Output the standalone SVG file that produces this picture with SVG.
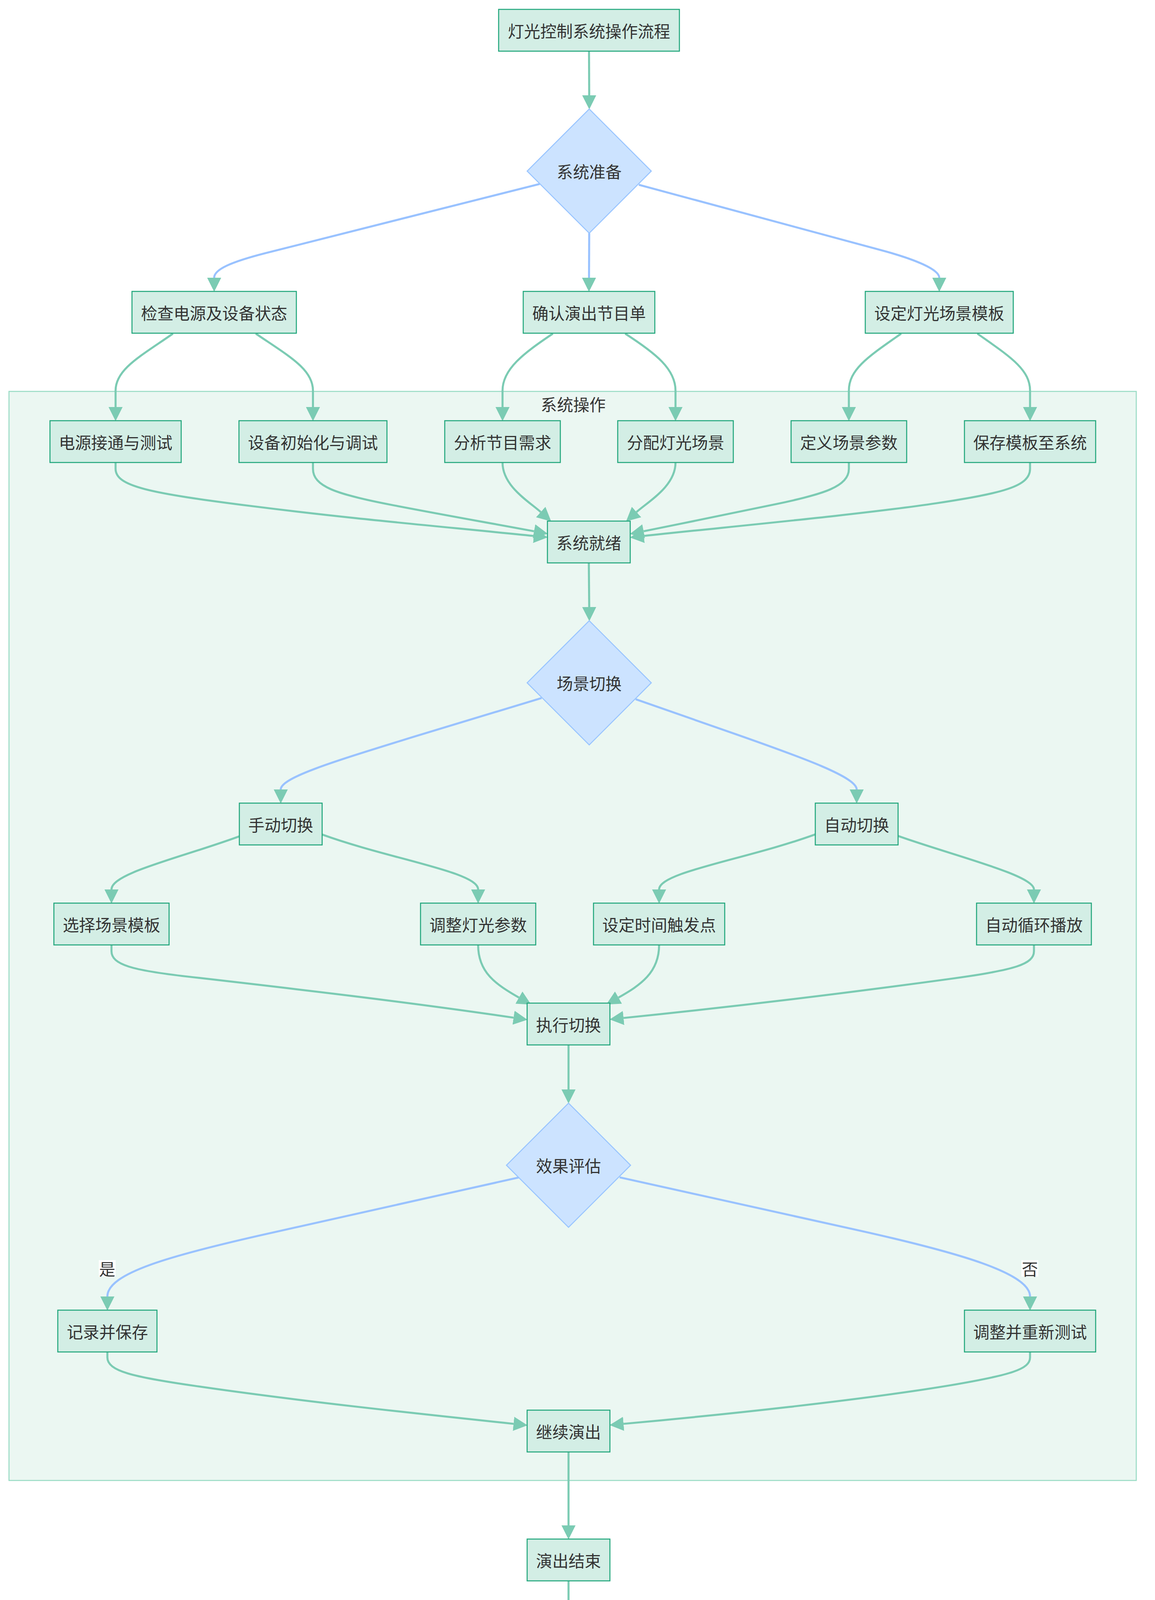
<svg xmlns="http://www.w3.org/2000/svg" width="2958" height="4878" viewBox="0 0 2958 4878">
<style>
.n rect{fill:#D3EEE5;stroke:#20A67B;stroke-width:2.6}
.d polygon{fill:#CCE3FF;stroke:#99C5FF;stroke-width:2.6}
.e path{fill:none;stroke:#7BCBB3;stroke-width:5.2;marker-end:url(#arr)}
.e path.b{stroke:#99C2FF}
text{font-family:"Noto Sans CJK SC","Noto Sans",sans-serif;font-size:41.6px;fill:#333333;text-anchor:middle;dominant-baseline:central}
</style>
<defs>
<marker id="arr" markerUnits="userSpaceOnUse" markerWidth="36" markerHeight="36" viewBox="0 0 35 35" refX="0" refY="17.5" orient="auto">
<path d="M0,0 L35,17.5 L0,35 z" fill="#7BCBB3"/>
</marker>
</defs>
<rect x="0" y="0" width="2958" height="4878" fill="#ffffff"/>
<g id="cluster-ops">
<rect x="23" y="1002" width="2887" height="2788" fill="#EBF7F2" stroke="#98DBC4" stroke-width="2.6"/>
<text x="1468" y="1034">系统操作</text>
</g>
<g id="connectors" class="e">
<path d="M1508.5,131 L1509,244"/>
<path class="b" d="M1382,471 L680,648 C590,671 548.5,690 548.5,711"/>
<path class="b" d="M1509,597 L1508.5,711"/>
<path class="b" d="M1636,473 L2255,640 C2345,664 2405.5,690 2405.5,711"/>
<path d="M443,854 C360,912 296,945 296,1000 L296,1042"/>
<path d="M655,854 C740,912 801.5,945 801.5,1000 L801.5,1042"/>
<path d="M1416,854 C1340,905 1287,945 1287,1000 L1287,1042"/>
<path d="M1601,854 C1680,905 1730,945 1730,1000 L1730,1042"/>
<path d="M2308,854 C2225,912 2174,945 2174,1000 L2174,1042"/>
<path d="M2503,854 C2585,912 2638,945 2638,1000 L2638,1042"/>
<path d="M296,1184 L296,1200 C296,1245 380,1262 640,1295 C900,1328 1100,1345 1367,1372"/>
<path d="M801.5,1184 L801.5,1200 C801.5,1245 860,1265 1000,1292 C1150,1321 1250,1338 1367.6,1360"/>
<path d="M1287,1184 C1287,1245 1355,1284 1384.8,1310.8"/>
<path d="M1730,1184 C1730,1245 1660,1284 1630.2,1310.8"/>
<path d="M2174,1184 L2174,1200 C2174,1245 2110,1265 1990,1290 C1850,1318 1760,1338 1648.4,1360"/>
<path d="M2638,1184 L2638,1200 C2638,1245 2570,1262 2400,1288 C2200,1318 1850,1350 1649,1372"/>
<path d="M1508,1441 L1509,1554"/>
<path class="b" d="M1387,1787 L1060,1886 C860,1948 719,1990 719,2021"/>
<path class="b" d="M1628,1790 L1880,1878 C2060,1941 2194,1990 2194,2021"/>
<path d="M613,2141 C460,2197 285.5,2235 285.5,2277"/>
<path d="M824,2136 C1000,2200 1224.5,2232 1224.5,2277"/>
<path d="M2088,2136 C1912,2200 1688,2232 1688,2277"/>
<path d="M2300,2140 C2440,2190 2648,2240 2648,2277"/>
<path d="M285.5,2419 L285.5,2435 C285.5,2470 340,2484 480,2500 C760,2532 1050,2566 1315.2,2605.3"/>
<path d="M1224.5,2419 C1224.5,2490 1270,2520 1329,2553.8"/>
<path d="M1688,2419 C1688,2490 1640,2522 1584,2553.8"/>
<path d="M2648,2419 L2648,2435 C2648,2468 2600,2483 2440,2505 C2150,2545 1850,2580 1597,2606"/>
<path d="M1456,2675 L1456,2789"/>
<path class="b" d="M1330,3014 L700,3155 C430,3215 275,3260 275,3319"/>
<path class="b" d="M1587,3014 L2200,3150 C2460,3208 2638,3260 2638,3319"/>
<path d="M275,3461 L275,3475 C275,3510 340,3525 500,3548 C760,3586 1050,3617 1315.2,3645"/>
<path d="M2638,3461 L2638,3475 C2638,3505 2590,3520 2430,3547 C2200,3585 1850,3622 1597,3645"/>
<path d="M1456,3717 L1456,3905"/>
<path d="M1456,4047 L1456,4161"/>
<path d="M1456,4303 L1456,4417"/>
<path d="M1456,4559 L1456,4673"/>
</g>
<g id="edge-labels">
<rect x="253" y="3226" width="43" height="42" fill="#ffffff"/>
<text x="274.5" y="3246.5">是</text>
<rect x="2616" y="3226" width="43" height="42" fill="#ffffff"/>
<text x="2637.5" y="3247">否</text>
</g>
<g id="n-title" class="n"><rect x="1277" y="24" width="463" height="107"/><text x="1508.5" y="77.5">灯光控制系统操作流程</text></g>
<g id="n-prep" class="d"><polygon points="1509,279 1668,438 1509,597 1350,438"/><text x="1509" y="438">系统准备</text></g>
<g id="n-a1" class="n"><rect x="338" y="746" width="421" height="107"/><text x="548.5" y="799.5">检查电源及设备状态</text></g>
<g id="n-a2" class="n"><rect x="1340" y="746" width="337" height="107"/><text x="1508.5" y="799.5">确认演出节目单</text></g>
<g id="n-a3" class="n"><rect x="2216" y="746" width="379" height="107"/><text x="2405.5" y="799.5">设定灯光场景模板</text></g>
<g id="n-b1" class="n"><rect x="128" y="1077" width="336" height="107"/><text x="296" y="1130.5">电源接通与测试</text></g>
<g id="n-b2" class="n"><rect x="612" y="1077" width="379" height="107"/><text x="801.5" y="1130.5">设备初始化与调试</text></g>
<g id="n-b3" class="n"><rect x="1139" y="1077" width="296" height="107"/><text x="1287" y="1130.5">分析节目需求</text></g>
<g id="n-b4" class="n"><rect x="1582" y="1077" width="296" height="107"/><text x="1730" y="1130.5">分配灯光场景</text></g>
<g id="n-b5" class="n"><rect x="2026" y="1077" width="296" height="107"/><text x="2174" y="1130.5">定义场景参数</text></g>
<g id="n-b6" class="n"><rect x="2470" y="1077" width="336" height="107"/><text x="2638" y="1130.5">保存模板至系统</text></g>
<g id="n-ready" class="n"><rect x="1402" y="1334" width="212" height="107"/><text x="1508" y="1387.5">系统就绪</text></g>
<g id="n-switch" class="d"><polygon points="1509,1589 1668,1748 1509,1907 1350,1748"/><text x="1509" y="1748">场景切换</text></g>
<g id="n-manual" class="n"><rect x="613" y="2056" width="212" height="107"/><text x="719" y="2109.5">手动切换</text></g>
<g id="n-auto" class="n"><rect x="2088" y="2056" width="212" height="107"/><text x="2194" y="2109.5">自动切换</text></g>
<g id="n-f1" class="n"><rect x="138" y="2312" width="295" height="107"/><text x="285.5" y="2365.5">选择场景模板</text></g>
<g id="n-f2" class="n"><rect x="1077" y="2312" width="295" height="107"/><text x="1224.5" y="2365.5">调整灯光参数</text></g>
<g id="n-f3" class="n"><rect x="1520" y="2312" width="336" height="107"/><text x="1688" y="2365.5">设定时间触发点</text></g>
<g id="n-f4" class="n"><rect x="2501" y="2312" width="294" height="107"/><text x="2648" y="2365.5">自动循环播放</text></g>
<g id="n-exec" class="n"><rect x="1350" y="2568" width="212" height="107"/><text x="1456" y="2621.5">执行切换</text></g>
<g id="n-eval" class="d"><polygon points="1456,2824 1615,2983 1456,3142 1297,2983"/><text x="1456" y="2983">效果评估</text></g>
<g id="n-save" class="n"><rect x="148" y="3354" width="254" height="107"/><text x="275" y="3407.5">记录并保存</text></g>
<g id="n-retest" class="n"><rect x="2470" y="3354" width="336" height="107"/><text x="2638" y="3407.5">调整并重新测试</text></g>
<g id="n-continue" class="n"><rect x="1350" y="3610" width="212" height="107"/><text x="1456" y="3663.5">继续演出</text></g>
<g id="n-end-show" class="n"><rect x="1350" y="3940" width="212" height="107"/><text x="1456" y="3993.5">演出结束</text></g>
<g id="n-reset" class="n"><rect x="1288" y="4196" width="336" height="107"/><text x="1456" y="4249.5">系统复位与清理</text></g>
<g id="n-record" class="n"><rect x="1308" y="4452" width="296" height="107"/><text x="1456" y="4505.5">记录演出数据</text></g>
<g id="n-finish" class="n"><rect x="1350" y="4708" width="212" height="107"/><text x="1456" y="4761.5">结束流程</text></g>
</svg>
